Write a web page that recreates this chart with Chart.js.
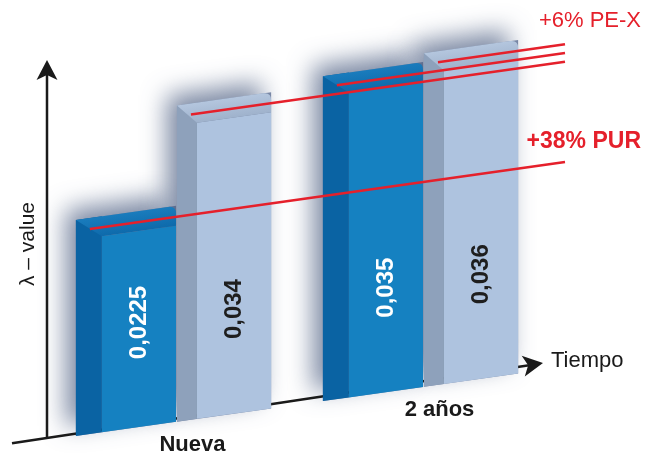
<!DOCTYPE html>
<html>
<head>
<meta charset="utf-8">
<script src="https://cdn.jsdelivr.net/npm/chart.js@4"></script>
<style>
    html, body { margin: 0; padding: 0; background: #fff; }
</style>
</head>
<body>
<canvas id="lambdaChart" width="645" height="453"></canvas>
<script>
// Data
const categories = ['Nueva', '2 años'];
const seriesNames = ['PUR', 'PE-X'];
const purValues = [0.0225, 0.035];
const pexValues = [0.034, 0.036];
const changeNotes = ['+38% PUR', '+6% PE-X'];
const yTitle = 'λ – value';
const xTitle = 'Tiempo';

// Look
const SKEW = -0.141;          // floor perspective
const LABEL_AT = 0.012;       // value level where the bar numbers sit
const faces = [
    { front: '#1581c1', side: '#0a63a3', topA: '#1a7cbd', topB: '#0e6aab', depth: 26, text: '#ffffff' },
    { front: '#aec3df', side: '#8ea1bb', topA: '#b4c6de', topB: '#9fb2cc', depth: 20, text: '#1e1e1e' }
];
const TOP_DEPTH = 20;
const RED = '#e5202b';

const fmt = v => String(v).replace('.', ',');

function skewFrame(ctx, ax) {
    ctx.transform(1, SKEW, 0, 1, 0, -SKEW * ax);
}

const bars3d = {
    id: 'bars3d',
    beforeDatasetsDraw(chart) {
        const { ctx, chartArea } = chart;
        const ax = chartArea.left - 16;

        // soft shadows behind every bar
        chart.data.datasets.forEach((ds, i) => {
            const d = faces[i].depth;
            chart.getDatasetMeta(i).data.forEach(bar => {
                const x0 = bar.x - bar.width / 2;
                ctx.save();
                skewFrame(ctx, ax);
                ctx.shadowColor = 'rgba(70, 88, 125, 0.7)';
                ctx.shadowBlur = 24;
                ctx.shadowOffsetX = -10;
                ctx.shadowOffsetY = -10;
                ctx.fillStyle = 'rgba(120, 135, 165, 1)';
                ctx.fillRect(x0 - d, bar.y - TOP_DEPTH, bar.width + d, bar.base - bar.y + TOP_DEPTH);
                ctx.restore();
            });
        });

        // axes with arrows
        const floorY = chartArea.bottom - 2;
        const topY = chartArea.top + 12;
        ctx.save();
        ctx.strokeStyle = '#1a1a1a';
        ctx.fillStyle = '#1a1a1a';
        ctx.lineWidth = 2.5;
        ctx.beginPath();
        ctx.moveTo(ax, floorY);
        ctx.lineTo(ax, topY + 14);
        ctx.stroke();
        ctx.beginPath();
        ctx.moveTo(ax, topY);
        ctx.lineTo(ax - 10.5, topY + 20);
        ctx.lineTo(ax, topY + 15);
        ctx.lineTo(ax + 10.5, topY + 20);
        ctx.closePath();
        ctx.fill();

        const slope = -0.151;
        const sx = ax - 35, sy = floorY + 35 * -slope;
        const ex = chartArea.right - 14, ey = floorY + (ex - ax) * slope;
        const ang = Math.atan(slope);
        ctx.beginPath();
        ctx.moveTo(sx, sy);
        ctx.lineTo(ex - 14 * Math.cos(ang), ey - 14 * Math.sin(ang));
        ctx.stroke();
        ctx.translate(ex, ey);
        ctx.rotate(ang);
        ctx.beginPath();
        ctx.moveTo(0, 0);
        ctx.lineTo(-20, -10.5);
        ctx.lineTo(-15, 0);
        ctx.lineTo(-20, 10.5);
        ctx.closePath();
        ctx.fill();
        ctx.restore();

        ctx.save();
        ctx.fillStyle = '#1a1a1a';
        ctx.font = '22px "Liberation Sans", Arial, sans-serif';
        ctx.textBaseline = 'middle';
        ctx.fillText(xTitle, ex + 8, ey - 2);
        ctx.translate(ax - 19, (chartArea.top + chartArea.bottom) / 2);
        ctx.rotate(-Math.PI / 2);
        ctx.textAlign = 'center';
        ctx.font = '21px "Liberation Sans", Arial, sans-serif';
        ctx.fillText(yTitle, 0, 0);
        ctx.restore();
    },
    beforeDatasetDraw(chart) {
        chart.ctx.save();
        skewFrame(chart.ctx, chart.chartArea.left - 16);
    },
    afterDatasetDraw(chart, args) {
        const ctx = chart.ctx;
        const f = faces[args.index];
        const d = f.depth;
        args.meta.data.forEach(bar => {
            const x0 = bar.x - bar.width / 2;
            const x1 = bar.x + bar.width / 2;
            const yt = bar.y, yb = bar.base;
            // side face
            ctx.fillStyle = f.side;
            ctx.fillRect(x0 - d, yt - TOP_DEPTH, d, yb - yt + TOP_DEPTH);
            // top face
            const g = ctx.createLinearGradient(0, yt - TOP_DEPTH, 0, yt);
            g.addColorStop(0, f.topA);
            g.addColorStop(1, f.topB);
            ctx.fillStyle = g;
            ctx.beginPath();
            ctx.moveTo(x0 - d, yt - TOP_DEPTH);
            ctx.lineTo(x1 - 8, yt - TOP_DEPTH);
            ctx.quadraticCurveTo(x1, yt - TOP_DEPTH, x1, yt - TOP_DEPTH + 8);
            ctx.lineTo(x1, yt);
            ctx.lineTo(x0, yt);
            ctx.closePath();
            ctx.fill();
        });
        ctx.restore();
    },
    afterDatasetsDraw(chart) {
        const { ctx, chartArea, scales } = chart;
        const ax = chartArea.left - 16;
        const endX = chartArea.right + 8;
        const sk = (x, y) => y + SKEW * (x - ax);

        // red level lines and notes
        ctx.save();
        ctx.strokeStyle = RED;
        ctx.lineWidth = 2.5;
        const lineEnds = [];
        chart.data.datasets.forEach((ds, i) => {
            const d = faces[i].depth;
            lineEnds[i] = [];
            chart.getDatasetMeta(i).data.forEach((bar, j) => {
                const x0 = bar.x - bar.width / 2;
                const sx = x0 - d + 14;
                const y = bar.y - 9;
                ctx.beginPath();
                ctx.moveTo(sx, sk(sx, y));
                ctx.lineTo(endX, sk(endX, y));
                ctx.stroke();
                lineEnds[i][j] = sk(endX, y);
            });
        });
        ctx.fillStyle = RED;
        ctx.textAlign = 'right';
        ctx.textBaseline = 'middle';
        ctx.font = 'bold 23px "Liberation Sans", Arial, sans-serif';
        ctx.fillText(changeNotes[0], 641, lineEnds[0][0] - 20);
        ctx.font = '22px "Liberation Sans", Arial, sans-serif';
        ctx.fillText(changeNotes[1], 641, lineEnds[1][1] - 23);
        ctx.restore();

        // numbers inside the bars
        const labelY = scales.y.getPixelForValue(LABEL_AT);
        chart.data.datasets.forEach((ds, i) => {
            chart.getDatasetMeta(i).data.forEach((bar, j) => {
                ctx.save();
                ctx.translate(bar.x, sk(bar.x, labelY));
                ctx.rotate(-Math.PI / 2);
                ctx.fillStyle = faces[i].text;
                ctx.font = 'bold 24px "Liberation Sans", Arial, sans-serif';
                ctx.textAlign = 'center';
                ctx.textBaseline = 'middle';
                ctx.fillText(fmt(ds.data[j]), 0, 0);
                ctx.restore();
            });
        });

        // category names under the floor
        ctx.save();
        ctx.fillStyle = '#1a1a1a';
        ctx.font = 'bold 22px "Liberation Sans", Arial, sans-serif';
        ctx.textAlign = 'center';
        ctx.textBaseline = 'middle';
        const zero = scales.y.getPixelForValue(0);
        categories.forEach((c, j) => {
            const x = scales.x.getPixelForValue(j) + 6;
            ctx.fillText(c, x, sk(x, zero) + 25);
        });
        ctx.restore();
    }
};

const lambdaChart = document.getElementById('lambdaChart');
new Chart(lambdaChart, {
    type: 'bar',
    data: {
        labels: categories,
        datasets: [
            { label: seriesNames[0], data: purValues, backgroundColor: faces[0].front },
            { label: seriesNames[1], data: pexValues, backgroundColor: faces[1].front }
        ]
    },
    options: {
        responsive: false,
        animation: false,
        devicePixelRatio: 1,
        datasets: { bar: { categoryPercentage: 0.77, barPercentage: 0.78, clip: false } },
        layout: { padding: { left: 63, right: 88, top: 48, bottom: 13 } },
        scales: {
            x: { display: false },
            y: { display: false, min: 0, max: 0.045 }
        },
        plugins: { legend: { display: false }, tooltip: { enabled: false } }
    },
    plugins: [bars3d]
});
</script>
</body>
</html>
